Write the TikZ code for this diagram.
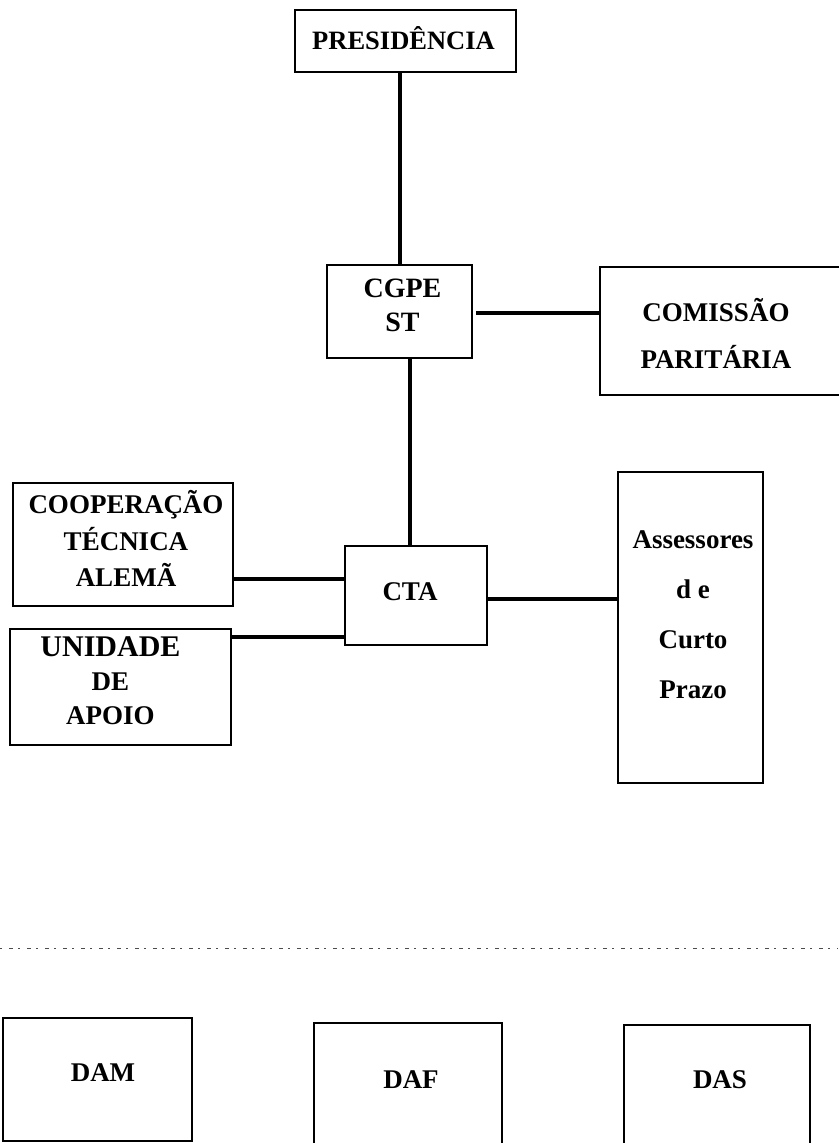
\documentclass[tikz,border=0pt]{standalone}
\usepackage{fontspec}
\setmainfont{Liberation Serif}
\begin{document}
\begin{tikzpicture}[x=1pt, y=-1pt,
  box/.style={draw, line width=1.6pt, inner sep=0pt, rectangle},
  lbl/.style={font=\bfseries\fontsize{27}{34}\selectfont, align=center, inner sep=0pt},
  conn/.style={line width=4pt},
  sep/.style={draw=gray!60!black, line width=1pt, dash pattern=on 2pt off 7pt on 4pt off 5pt}]
\useasboundingbox (0,0) rectangle (838,1143);
% top part
\node[box, minimum width=221pt, minimum height=62pt,
  label={[lbl, font=\bfseries\fontsize{26.5}{34}\selectfont, xshift=-2pt, yshift=3pt]center:PRESIDÊNCIA}] (pres) at (405.5,41) {};
\node[box, minimum width=145pt, minimum height=93pt,
  label={[lbl, font=\bfseries\fontsize{28}{34}\selectfont, xshift=3pt, yshift=6.5pt]center:{CGPE\\ST}}] (cgpe) at (399.5,311.5) {};
\node[box, minimum width=241pt, minimum height=128pt,
  label={[lbl, font=\bfseries\fontsize{27}{47}\selectfont, xshift=-4.5pt, yshift=-2.5pt]center:{COMISSÃO\\PARITÁRIA}}] (com) at (720.5,331) {};
\node[box, minimum width=220pt, minimum height=123pt,
  label={[lbl, font=\bfseries\fontsize{27}{36.5}\selectfont, xshift=3pt, yshift=6pt]center:{COOPERAÇÃO\\TÉCNICA\\ALEMÃ}}] (coop) at (123,544.5) {};
\node[box, minimum width=221pt, minimum height=116pt,
  label={[lbl, font=\bfseries\fontsize{27}{34}\selectfont, xshift=-10pt, yshift=6pt]center:{{\fontsize{30}{34}\selectfont UNIDADE}\\DE\\APOIO}}] (uni) at (120.5,687) {};
\node[box, minimum width=142pt, minimum height=99pt,
  label={[lbl, xshift=-6pt, yshift=3.5pt]center:CTA}] (cta) at (416,595.5) {};
\node[box, minimum width=145pt, minimum height=311pt,
  label={[lbl, font=\bfseries\fontsize{27}{50}\selectfont, xshift=2.5pt, yshift=12.5pt]center:{Assessores\\d e\\Curto\\Prazo}}] (ass) at (690.5,627.5) {};
% connectors
\draw[conn] (cgpe.north |- pres.south) -- (cgpe.north);
\coordinate (c1) at ([xshift=10.5pt]cgpe.south);
\draw[conn] (c1) -- (c1 |- cta.north);
\coordinate (c2) at ([yshift=-1.5pt]cgpe.east);
\draw[conn] ([xshift=3pt]c2) -- (c2 -| com.west);
\coordinate (c3) at ([yshift=-34.5pt]coop.east);
\draw[conn] (c3) -- (c3 -| cta.west);
\coordinate (c4) at ([yshift=50pt]uni.east);
\draw[conn] (c4) -- (c4 -| cta.west);
\coordinate (c5) at ([yshift=-3.5pt]cta.east);
\draw[conn] (c5) -- (c5 -| ass.west);
% separator
\coordinate (sl) at (0,948);
\coordinate (sr) at (838,948);
\draw[sep] (sl) -- (sr);
% bottom boxes
\node[box, minimum width=189pt, minimum height=123pt,
  label={[lbl, xshift=5.5pt, yshift=6.5pt]center:DAM}] (dam) at (97.5,1079.5) {};
\node[box, minimum width=188pt, minimum height=127pt,
  label={[lbl, xshift=3pt, yshift=6.5pt]center:DAF}] (daf) at (408,1086.5) {};
\node[box, minimum width=186pt, minimum height=125pt,
  label={[lbl, xshift=3pt, yshift=7.5pt]center:DAS}] (das) at (717,1087.5) {};
\end{tikzpicture}
\end{document}
